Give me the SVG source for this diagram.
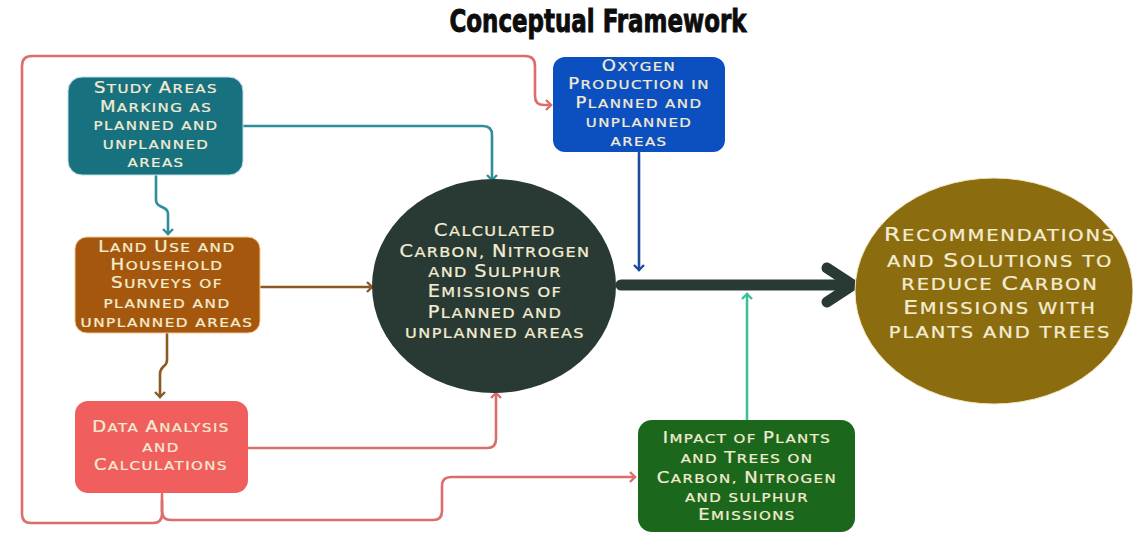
<svg xmlns="http://www.w3.org/2000/svg" width="1133" height="533" viewBox="0 0 1133 533">
  <style>
    .lbl { font-family: "DejaVu Sans", "Liberation Sans", sans-serif; font-size: 12.5px; fill: #f4ecd2; stroke: #f4ecd2; stroke-width: 0.25px; text-anchor: middle; letter-spacing: 1.2px; }
    .mid { font-size: 14px; }
    .big { font-size: 16px; letter-spacing: 1.5px; }
    .k { font-size: 1.2em; }
    .title { font-family: "DejaVu Sans Condensed", "DejaVu Sans", sans-serif; font-weight: bold; font-size: 32px; fill: #0d0d0d; stroke: #0d0d0d; stroke-width: 0.9px; text-anchor: middle; }
    .conn { fill: none; stroke-width: 2.6; stroke-linejoin: round; stroke-linecap: round; }
  </style>
  <defs>
    <marker id="ahTeal" markerWidth="12" markerHeight="12" refX="6" refY="6" orient="auto" markerUnits="userSpaceOnUse">
      <path d="M1,1 L6,6 L1,11" fill="none" stroke="#2f8e9c" stroke-width="2.4"/>
    </marker>
    <marker id="ahBrown" markerWidth="12" markerHeight="12" refX="6" refY="6" orient="auto" markerUnits="userSpaceOnUse">
      <path d="M1,1 L6,6 L1,11" fill="none" stroke="#8a5a24" stroke-width="2.4"/>
    </marker>
    <marker id="ahPink" markerWidth="12" markerHeight="12" refX="6" refY="6" orient="auto" markerUnits="userSpaceOnUse">
      <path d="M1,1 L6,6 L1,11" fill="none" stroke="#dd6d6d" stroke-width="2.4"/>
    </marker>
    <marker id="ahBlue" markerWidth="12" markerHeight="12" refX="6" refY="6" orient="auto" markerUnits="userSpaceOnUse">
      <path d="M1,1 L6,6 L1,11" fill="none" stroke="#1d4c9c" stroke-width="2.4"/>
    </marker>
    <marker id="ahMint" markerWidth="12" markerHeight="12" refX="6" refY="6" orient="auto" markerUnits="userSpaceOnUse">
      <path d="M1,1 L6,6 L1,11" fill="none" stroke="#3dbf9c" stroke-width="2.4"/>
    </marker>
  </defs>

  <rect width="1133" height="533" fill="#ffffff"/>

  <text class="title" x="598" y="32" textLength="297" lengthAdjust="spacingAndGlyphs">Conceptual Framework</text>

  <g id="connectors">
    <!-- loop from the analysis box back round to oxygen production -->
    <path class="conn" stroke="#dd6d6d" d="M162,494 V514 Q162,523 153,523 H31 Q22,523 22,514 V66 Q22,56 32,56 H525 Q535,56 535,66 V96 Q535,105 544,105 H551" marker-end="url(#ahPink)"/>
    <!-- analysis box to impact of plants -->
    <path class="conn" stroke="#dd6d6d" d="M162,500 V511 Q162,520 171,520 H433 Q442,520 442,511 V486 Q442,477 451,477 H635" marker-end="url(#ahPink)"/>
    <!-- analysis box to calculated emissions -->
    <path class="conn" stroke="#dd6d6d" d="M249,448 H487 Q496,448 496,439 V393" marker-end="url(#ahPink)"/>
    <!-- study areas to calculated emissions -->
    <path class="conn" stroke="#2f8e9c" d="M243,126 H483 Q492,126 492,135 V180" marker-end="url(#ahTeal)"/>
    <!-- study areas to land use -->
    <path class="conn" stroke="#2f8e9c" d="M156,176 V200 Q156,204 160,206 L164,208 Q168,210 168,214 V234" marker-end="url(#ahTeal)"/>
    <!-- land use to calculated emissions -->
    <path class="conn" stroke="#8a5a24" d="M261,287 H372" marker-end="url(#ahBrown)"/>
    <!-- land use to analysis -->
    <path class="conn" stroke="#8a5a24" d="M167,334 V360 Q167,364 164,366 L163,367 Q160,370 160,374 V397" marker-end="url(#ahBrown)"/>
    <!-- oxygen production down to main arrow -->
    <path class="conn" stroke="#1d4c9c" d="M639,153 V270" marker-end="url(#ahBlue)"/>
    <!-- impact of plants up to main arrow -->
    <path class="conn" stroke="#3dbf9c" d="M747,419 V294" marker-end="url(#ahMint)"/>
    <!-- main thick arrow -->
    <path d="M621,285 H852" fill="none" stroke="#283a33" stroke-width="11" stroke-linecap="round"/>
    <path d="M827,268 L853,285 L827,302" fill="none" stroke="#283a33" stroke-width="11" stroke-linecap="round" stroke-linejoin="round"/>
  </g>

  <g id="study-areas">
    <rect x="68" y="77" width="175" height="98" rx="14" fill="#17717f" stroke="#bfe0e4" stroke-width="1"/>
    <g class="lbl" transform="translate(156,0) scale(1.2,1)">
      <text y="93"><tspan class="k">S</tspan>TUDY <tspan class="k">A</tspan>REAS</text>
      <text y="112"><tspan class="k">M</tspan>ARKING AS</text>
      <text y="130">PLANNED AND</text>
      <text y="149">UNPLANNED</text>
      <text y="167">AREAS</text>
    </g>
  </g>

  <g id="land-use">
    <rect x="75" y="237" width="185" height="96" rx="12" fill="#a5580d" stroke="#f0c890" stroke-width="1"/>
    <g class="lbl" transform="translate(167,0) scale(1.22,1)">
      <text y="252"><tspan class="k">L</tspan>AND <tspan class="k">U</tspan>SE AND</text>
      <text y="270"><tspan class="k">H</tspan>OUSEHOLD</text>
      <text y="288"><tspan class="k">S</tspan>URVEYS OF</text>
      <text y="308">PLANNED AND</text>
      <text y="327">UNPLANNED AREAS</text>
    </g>
  </g>

  <g id="data-analysis">
    <rect x="75" y="401" width="173" height="92" rx="13" fill="#f05e5e"/>
    <g class="lbl" transform="translate(161,0) scale(1.2,1)">
      <text y="432"><tspan class="k">D</tspan>ATA <tspan class="k">A</tspan>NALYSIS</text>
      <text y="452">AND</text>
      <text y="470"><tspan class="k">C</tspan>ALCULATIONS</text>
    </g>
  </g>

  <g id="oxygen-production">
    <rect x="553" y="57" width="172" height="95" rx="12" fill="#0b4fc0"/>
    <g class="lbl" transform="translate(639,0) scale(1.2,1)">
      <text y="71"><tspan class="k">O</tspan>XYGEN</text>
      <text y="89"><tspan class="k">P</tspan>RODUCTION IN</text>
      <text y="108"><tspan class="k">P</tspan>LANNED AND</text>
      <text y="127">UNPLANNED</text>
      <text y="146">AREAS</text>
    </g>
  </g>

  <g id="calculated-emissions">
    <ellipse cx="494" cy="286" rx="122" ry="107" fill="#283a33"/>
    <g class="lbl mid" transform="translate(495,0) scale(1.15,1)">
      <text y="236"><tspan class="k">C</tspan>ALCULATED</text>
      <text y="257"><tspan class="k">C</tspan>ARBON, <tspan class="k">N</tspan>ITROGEN</text>
      <text y="277">AND <tspan class="k">S</tspan>ULPHUR</text>
      <text y="297"><tspan class="k">E</tspan>MISSIONS OF</text>
      <text y="318"><tspan class="k">P</tspan>LANNED AND</text>
      <text y="338">UNPLANNED AREAS</text>
    </g>
  </g>

  <g id="impact-plants">
    <rect x="638" y="420" width="217" height="112" rx="14" fill="#1b671c"/>
    <g class="lbl" transform="translate(747,0) scale(1.2,1)">
      <text y="443"><tspan class="k">I</tspan>MPACT OF <tspan class="k">P</tspan>LANTS</text>
      <text y="463">AND <tspan class="k">T</tspan>REES ON</text>
      <text y="483"><tspan class="k">C</tspan>ARBON, <tspan class="k">N</tspan>ITROGEN</text>
      <text y="502">AND SULPHUR</text>
      <text y="520"><tspan class="k">E</tspan>MISSIONS</text>
    </g>
  </g>

  <g id="recommendations">
    <ellipse cx="994" cy="291" rx="139" ry="113" fill="#8b6c0f" stroke="#f3e7c0" stroke-width="1"/>
    <g class="lbl big" transform="translate(1000,0) scale(1.22,1)">
      <text y="241"><tspan class="k">R</tspan>ECOMMENDATIONS</text>
      <text y="267">AND <tspan class="k">S</tspan>OLUTIONS TO</text>
      <text y="290">REDUCE <tspan class="k">C</tspan>ARBON</text>
      <text y="314"><tspan class="k">E</tspan>MISSIONS WITH</text>
      <text y="338">PLANTS AND TREES</text>
    </g>
  </g>
</svg>
